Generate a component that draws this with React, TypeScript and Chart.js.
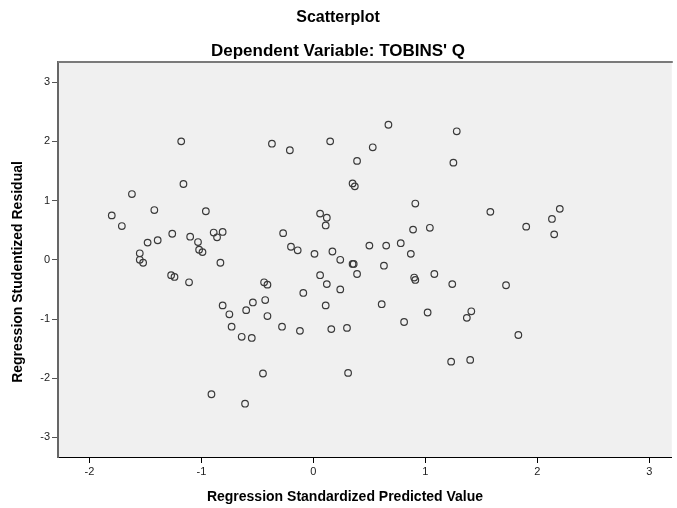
import React, { useEffect, useRef } from "react";
import { Chart, registerables } from "chart.js";

Chart.register(...registerables);

// Regression standardized predicted value (x) and studentized residual (y)
const predicted: number[] = [
  -1.8, -1.71, -1.62, -1.42, -1.55, -1.55, -1.52, -1.48, -1.39, -1.26,
  -1.18, -1.16, -1.1, -1.03, -1.02, -0.99, -0.96, -0.89, -0.86, -0.81,
  -0.83, -0.37, -0.21, -0.27, -0.2, -0.14, 0.01, 0.06, 0.12, 0.11,
  0.15, 0.17, 0.24, 0.67, 1.28, 0.53, 0.39, 1.25, 0.35, 0.37,
  0.91, 1.58, 2.2, 2.13, 2.15, 1.9, 0.89, 1.04, 0.5, 0.65,
  0.78, 0.87, 0.35, 0.36, 0.63, -1.27, -1.24, -1.11, -0.81, -0.75,
  -0.73, -0.6, -0.54, -0.64, -0.55, -0.44, -0.41, -0.43, -0.41, -0.28,
  -0.12, -0.09, 0.06, 0.12, 0.11, 0.16, -0.45, -0.91, -0.61, 0.39,
  0.9, 0.91, 1.08, 1.24, 1.72, 0.24, 0.61, 0.81, 1.02, 1.41,
  1.37, 1.83, 0.3, 1.23, 1.4, 0.31,
];
const residual: number[] = [
  0.75, 0.57, 1.11, 0.84, 0.11, 0.0, -0.05, 0.29, 0.33, 0.44,
  2.0, 1.28, 0.39, 0.3, 0.17, 0.13, 0.82, 0.46, 0.38, 0.47,
  -0.05, 1.96, 1.85, 0.45, 0.22, 0.16, 0.1, 0.78, 0.71, 0.58,
  2.0, 0.14, 0.0, 2.28, 2.17, 1.9, 1.67, 1.64, 1.29, 1.24,
  0.95, 0.81, 0.86, 0.69, 0.43, 0.56, 0.51, 0.54, 0.24, 0.24,
  0.28, 0.1, -0.07, -0.07, -0.1, -0.26, -0.29, -0.38, -0.77, -0.92,
  -1.13, -0.85, -0.72, -1.3, -1.32, -0.38, -0.42, -0.68, -0.95, -1.13,
  -1.2, -0.56, -0.26, -0.41, -0.77, -1.17, -1.92, -2.27, -2.43, -0.24,
  -0.3, -0.34, -0.24, -0.41, -0.43, -0.5, -0.75, -1.05, -0.89, -0.87,
  -0.98, -1.27, -1.15, -1.72, -1.69, -1.91,
];
const xTicks: number[] = [-2, -1, 0, 1, 2, 3];
const yTicks: number[] = [-3, -2, -1, 0, 1, 2, 3];

const titleText = "Scatterplot";
const subtitleText = "Dependent Variable: TOBINS' Q";
const xTitle = "Regression Standardized Predicted Value";
const yTitle = "Regression Studentized Residual";

const FONT = "'Liberation Sans', Arial, Helvetica, sans-serif";

const plotFrame = {
  id: "plotFrame",
  beforeDraw(chart: any) {
    const { ctx, chartArea } = chart;
    const { left, top, right, bottom } = chartArea;
    ctx.save();
    ctx.fillStyle = "#f0f0f0";
    ctx.fillRect(left, top, right - left, bottom - top);
    ctx.restore();
  },
  afterDraw(chart: any) {
    const { ctx, chartArea } = chart;
    const { left, top, right } = chartArea;
    ctx.save();
    ctx.strokeStyle = "#7a7a7a";
    ctx.lineWidth = 2;
    ctx.beginPath();
    ctx.moveTo(left, top);
    ctx.lineTo(right + 1, top);
    ctx.stroke();

    // axis titles (SPSS places them slightly off the plot centre)
    ctx.fillStyle = "#000";
    ctx.font = `bold 14px ${FONT}`;
    ctx.textAlign = "center";
    ctx.textBaseline = "middle";
    ctx.fillText(xTitle, 345, 497);
    ctx.translate(18, 272);
    ctx.rotate(-Math.PI / 2);
    ctx.fillText(yTitle, 0, 0);
    ctx.restore();
  },
};

export default function App() {
  const ref = useRef<HTMLCanvasElement | null>(null);

  useEffect(() => {
    document.body.style.margin = "0";
    document.body.style.overflow = "hidden";
    const canvas = ref.current;
    if (!canvas) return;
    const points = predicted.map((x, i) => ({ x, y: residual[i] }));
    const chart = new Chart(canvas, {
      type: "scatter",
      data: {
        datasets: [
          {
            data: points,
            pointStyle: "circle",
            pointRadius: 3.3,
            pointBorderWidth: 1.2,
            pointBorderColor: "#3a3a3a",
            pointBackgroundColor: "rgba(0,0,0,0)",
          },
        ],
      },
      plugins: [plotFrame],
      options: {
        animation: false,
        responsive: false,
        maintainAspectRatio: false,
        devicePixelRatio: 1,
        layout: { padding: { left: 0, right: 1, top: 0, bottom: 0 } },
        plugins: {
          legend: { display: false },
          tooltip: { enabled: false },
          title: {
            display: true,
            text: titleText,
            color: "#000",
            font: { family: FONT, size: 16, weight: "bold" },
            padding: { top: 8, bottom: 13.6 },
          },
          subtitle: {
            display: true,
            text: subtitleText,
            color: "#000",
            font: { family: FONT, size: 17, weight: "bold" },
            padding: { top: 0, bottom: 0.8 },
          },
        },
        scales: {
          x: {
            type: "linear",
            min: -2.28,
            max: 3.2,
            afterBuildTicks: (s: any) => {
              s.ticks = xTicks.map((v) => ({ value: v }));
            },
            afterFit: (s: any) => {
              s.height = 51;
            },
            grid: {
              drawOnChartArea: false,
              drawTicks: true,
              tickLength: 6,
              color: "#000",
            },
            border: { display: true, color: "#000", width: 1 },
            ticks: {
              color: "#222",
              font: { family: FONT, size: 11 },
              padding: 2,
              maxRotation: 0,
            },
            title: { display: false },
          },
          y: {
            type: "linear",
            min: -3.33,
            max: 3.34,
            afterBuildTicks: (s: any) => {
              s.ticks = yTicks.map((v) => ({ value: v }));
            },
            afterFit: (s: any) => {
              s.width = 58;
            },
            grid: {
              drawOnChartArea: false,
              drawTicks: true,
              tickLength: 6,
              color: "#555",
            },
            border: { display: true, color: "#666", width: 2 },
            ticks: {
              color: "#222",
              font: { family: FONT, size: 11 },
              padding: 2,
            },
            title: { display: false },
          },
        },
      },
    });
    return () => chart.destroy();
  }, []);

  return (
    <div style={{ width: 677, height: 508, background: "#fff" }}>
      <canvas ref={ref} width={677} height={508} style={{ display: "block", width: 677, height: 508 }} />
    </div>
  );
}
